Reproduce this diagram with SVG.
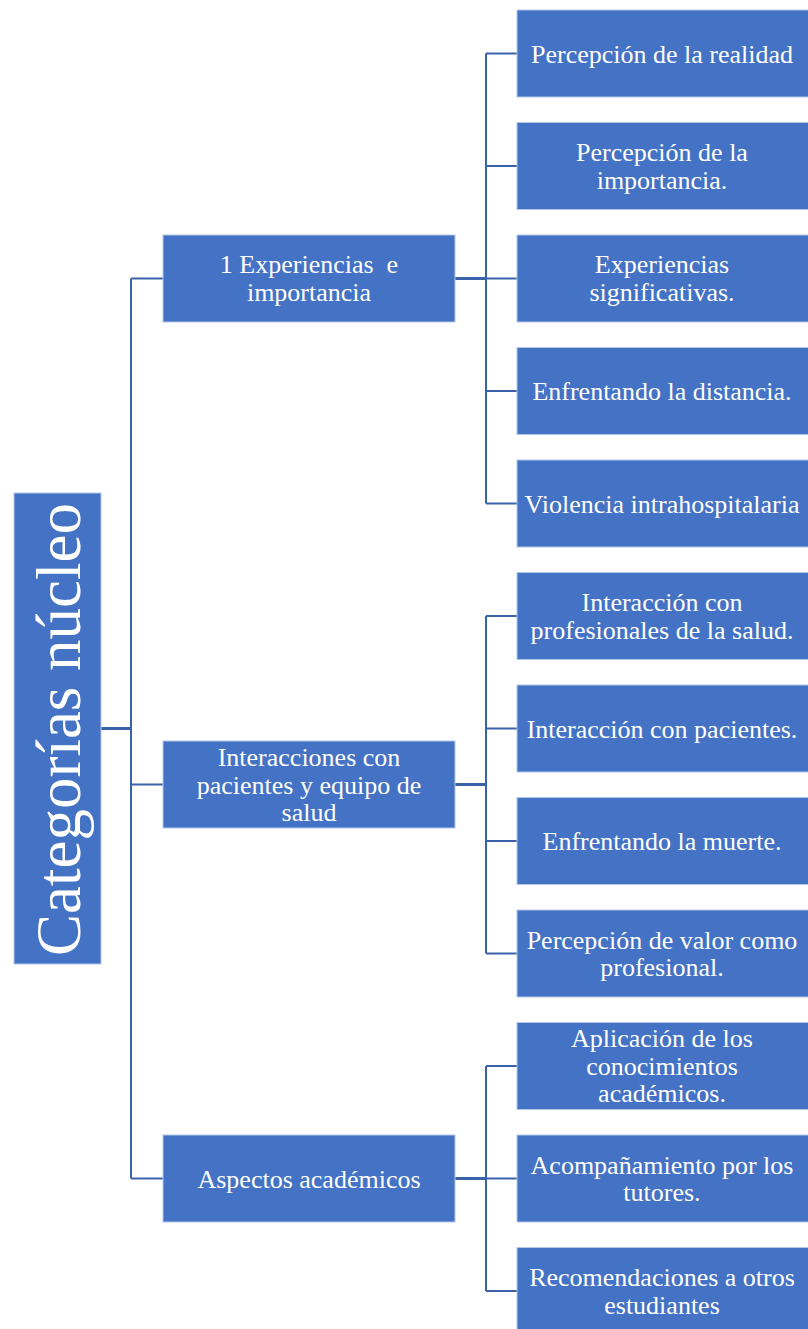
<svg xmlns="http://www.w3.org/2000/svg" width="808" height="1329" viewBox="0 0 808 1329">
<style>
.n{fill:#4472C4;stroke:#B4C7E7;stroke-width:1}
.t{font-family:'Liberation Serif',Tinos,'Times New Roman',Times,'DejaVu Serif',serif;font-size:26px;fill:#fff;text-anchor:middle;white-space:pre}
.rt{font-family:'Liberation Serif',Tinos,'Times New Roman',Times,'DejaVu Serif',serif;font-size:63px;fill:#fff;text-anchor:middle}
.c{fill:none;stroke:#3A62AA;stroke-width:2}
.c3{fill:none;stroke:#3A62AA;stroke-width:3}
</style>
<rect width="808" height="1329" fill="#fff"/>
<g id="connectors">
<path class="c3" d="M101 728.5H131"/>
<path class="c" d="M131 278.5V1178.5M131 278.5H163M131 784.5H163M131 1178.5H163"/>
<path class="c3" d="M455 278.5H486M455 784.5H486M455 1178.5H486"/>
<path class="c" d="M486 53.5V503.5M486 53.5H517M486 166H517M486 278.5H517M486 391H517M486 503.5H517"/>
<path class="c" d="M486 616V953.5M486 616H517M486 728.5H517M486 841H517M486 953.5H517"/>
<path class="c" d="M486 1066V1291M486 1066H517M486 1178.5H517M486 1291H517"/>
</g>
<g id="root">
<rect class="n" x="14" y="493" width="87" height="471"/>
<text class="rt" transform="translate(80,729.5) rotate(-90)">Categorías núcleo</text>
</g>
<g id="m1"><rect class="n" x="163" y="235" width="292" height="87"/><text class="t"><tspan x="309" y="273">1 Experiencias  e</tspan><tspan x="309" y="300.5">importancia</tspan></text></g>
<g id="m2"><rect class="n" x="163" y="741" width="292" height="87"/><text class="t"><tspan x="309" y="766">Interacciones con</tspan><tspan x="309" y="793.5">pacientes y equipo de</tspan><tspan x="309" y="821">salud</tspan></text></g>
<g id="m3"><rect class="n" x="163" y="1135" width="292" height="87"/><text class="t" x="309" y="1187.5">Aspectos académicos</text></g>
<g id="r1"><rect class="n" x="517" y="10" width="292" height="87"/><text class="t" x="662" y="62.5">Percepción de la realidad</text></g>
<g id="r2"><rect class="n" x="517" y="122.5" width="292" height="87"/><text class="t"><tspan x="662" y="161">Percepción de la</tspan><tspan x="662" y="188.5">importancia.</tspan></text></g>
<g id="r3"><rect class="n" x="517" y="235" width="292" height="87"/><text class="t"><tspan x="662" y="273">Experiencias</tspan><tspan x="662" y="300.5">significativas.</tspan></text></g>
<g id="r4"><rect class="n" x="517" y="347.5" width="292" height="87"/><text class="t" x="662" y="400">Enfrentando la distancia.</text></g>
<g id="r5"><rect class="n" x="517" y="460" width="292" height="87"/><text class="t" x="662" y="512.5">Violencia intrahospitalaria</text></g>
<g id="r6"><rect class="n" x="517" y="572.5" width="292" height="87"/><text class="t"><tspan x="662" y="611">Interacción con</tspan><tspan x="662" y="638.5">profesionales de la salud.</tspan></text></g>
<g id="r7"><rect class="n" x="517" y="685" width="292" height="87"/><text class="t" x="662" y="737.5">Interacción con pacientes.</text></g>
<g id="r8"><rect class="n" x="517" y="797.5" width="292" height="87"/><text class="t" x="662" y="850">Enfrentando la muerte.</text></g>
<g id="r9"><rect class="n" x="517" y="910" width="292" height="87"/><text class="t"><tspan x="662" y="948.5">Percepción de valor como</tspan><tspan x="662" y="976">profesional.</tspan></text></g>
<g id="r10"><rect class="n" x="517" y="1022.5" width="292" height="87"/><text class="t"><tspan x="662" y="1047">Aplicación de los</tspan><tspan x="662" y="1074.5">conocimientos</tspan><tspan x="662" y="1102">académicos.</tspan></text></g>
<g id="r11"><rect class="n" x="517" y="1135" width="292" height="87"/><text class="t"><tspan x="662" y="1173.5">Acompañamiento por los</tspan><tspan x="662" y="1201">tutores.</tspan></text></g>
<g id="r12"><rect class="n" x="517" y="1247.5" width="292" height="87"/><text class="t"><tspan x="662" y="1286">Recomendaciones a otros</tspan><tspan x="662" y="1313.5">estudiantes</tspan></text></g>
</svg>
